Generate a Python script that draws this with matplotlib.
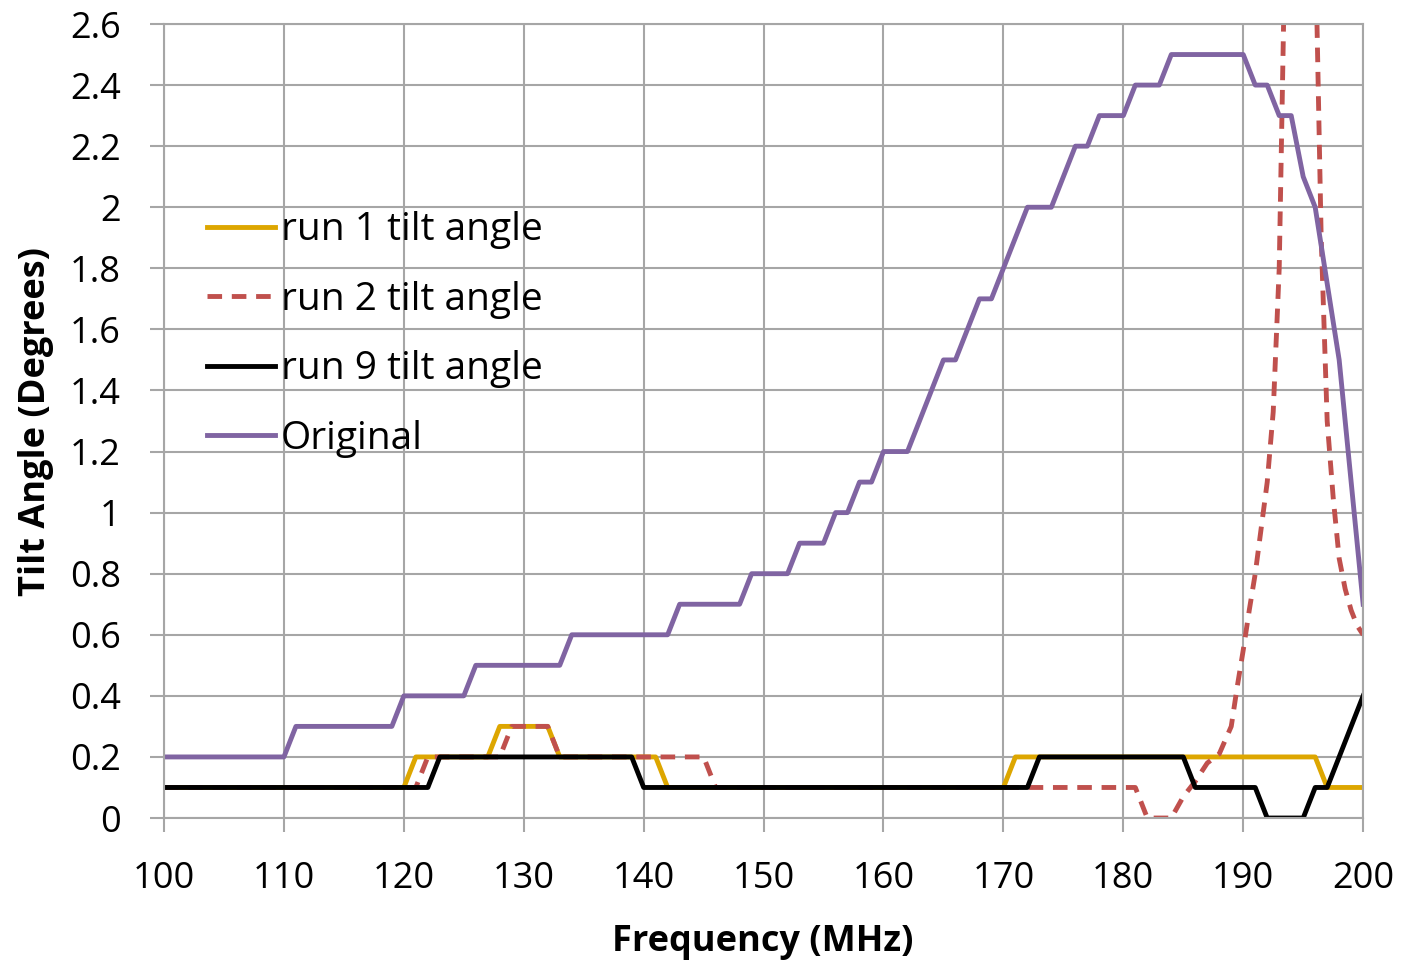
import numpy as np
import matplotlib.pyplot as plt

# frequency grid (MHz), 1 MHz steps
freq = list(range(100, 201))

original = ([0.2] * 11 + [0.3] * 9 + [0.4] * 6 + [0.5] * 8 + [0.6] * 9 + [0.7] * 6
            + [0.8] * 4 + [0.9] * 3 + [1.0, 1.0, 1.1, 1.1, 1.2, 1.2, 1.2, 1.3, 1.4,
            1.5, 1.5, 1.6, 1.7, 1.7, 1.8, 1.9, 2.0, 2.0, 2.0, 2.1, 2.2, 2.2, 2.3,
            2.3, 2.3, 2.4, 2.4, 2.4] + [2.5] * 7
            + [2.4, 2.4, 2.3, 2.3, 2.1, 2.0, 1.75, 1.5, 1.1, 0.7])

run1 = ([0.1] * 21 + [0.2] * 7 + [0.3] * 5 + [0.2] * 9 + [0.1] * 29
        + [0.2] * 26 + [0.1] * 4)

run9 = ([0.1] * 23 + [0.2] * 17 + [0.1] * 33 + [0.2] * 13 + [0.1] * 6
        + [0.0] * 4 + [0.1, 0.1, 0.2, 0.3, 0.4])

# run 2 was sampled more finely around the resonance
run2_freq = (list(range(100, 188))
             + [188, 189, 189.5, 190, 190.5, 191, 191.5, 192, 192.5, 193, 193.5,
                194, 195, 195.5, 196, 196.5, 197, 197.5, 198, 198.5, 199, 199.5, 200])
run2 = ([0.1] * 22 + [0.2] * 7 + [0.3] * 4 + [0.2] * 13 + [0.1] * 36
        + [0.0] * 3 + [0.07, 0.12, 0.18]
        + [0.21, 0.3, 0.43, 0.55, 0.68, 0.8, 0.95, 1.1, 1.33, 1.8, 2.9,
           5.0, 8.0, 5.0, 2.9, 1.9, 1.3, 1.05, 0.85, 0.75, 0.68, 0.63, 0.6])

plt.rcParams['font.family'] = ['Open Sans', 'DejaVu Sans']

fig = plt.figure(figsize=(14.03, 9.6), dpi=100)
ax = fig.add_axes([0.1169, 0.1479, 0.8547, 0.8271])

ax.plot(freq, run1, color='#DDA600', lw=3.5, label='run 1 tilt angle')
ax.plot(run2_freq, run2, color='#C0504D', lw=3.5, ls=(0, (3, 2)), label='run 2 tilt angle')
ax.plot(freq, run9, color='black', lw=3.5, label='run 9 tilt angle')
ax.plot(freq, original, color='#8064A2', lw=3.5, label='Original')

ax.set_xlim(100, 200)
ax.set_ylim(0, 2.6)
ax.set_xticks(range(100, 201, 10))
yt = np.round(np.arange(0, 2.61, 0.2), 1)
ax.set_yticks(yt)
ax.set_yticklabels([('%g' % v) for v in yt])
ax.grid(True, color='#A6A6A6', lw=1.5)
ax.set_axisbelow(True)
for s in ax.spines.values():
    s.set_color('#A6A6A6')
    s.set_linewidth(1.5)
ax.tick_params(labelsize=26, color='#A6A6A6', width=1.5, length=10, pad=21)

ax.set_xlabel('Frequency (MHz)', fontsize=26, fontweight='bold')
ax.set_ylabel('Tilt Angle (Degrees)', fontsize=26, fontweight='bold')
ax.xaxis.set_label_coords(0.499, -0.134)
ax.yaxis.set_label_coords(-0.092, 0.499)

ax.legend(loc='upper left', bbox_to_anchor=(0.036, 0.764), frameon=False,
          fontsize=28, handlelength=1.75, handletextpad=0.15, labelspacing=0.81,
          borderaxespad=0, borderpad=0)

fig.savefig('out.png', dpi=100)
